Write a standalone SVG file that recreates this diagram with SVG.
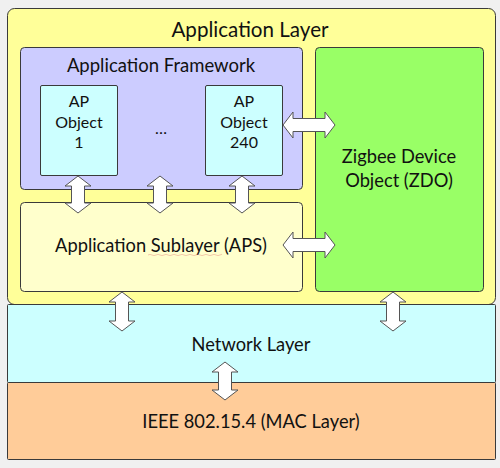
<svg xmlns="http://www.w3.org/2000/svg" width="500" height="468" viewBox="0 0 500 468">
<style>
.box{stroke:#3a3a3a;stroke-width:1}
.t{font-family:Lato,"Liberation Sans",sans-serif;fill:#111;text-anchor:middle}
.arr{fill:#fff;stroke:#555;stroke-width:1;stroke-linejoin:miter}
</style>
<rect x="0" y="0" width="500" height="468" fill="#f0f0f0"/>
<g id="application-layer">
<rect class="box" x="7.5" y="8.5" width="488" height="296" rx="7" fill="#ffff99"/>
<text class="t" x="250" y="37" font-size="20.6">Application Layer</text>
</g>
<g id="application-framework">
<rect class="box" x="20.5" y="47.5" width="282" height="142" rx="4" fill="#ccccff"/>
<text class="t" x="161" y="72" font-size="18.5">Application Framework</text>
</g>
<g id="ap-object-1">
<rect class="box" x="40.5" y="85.5" width="77" height="90" rx="1.5" fill="#ccffff"/>
<text class="t" x="79" y="107" font-size="16">AP</text>
<text class="t" x="79" y="128" font-size="16">Object</text>
<text class="t" x="79" y="148" font-size="16">1</text>
</g>
<g id="ellipsis">
<text class="t" x="161" y="134" font-size="16">…</text>
</g>
<g id="ap-object-240">
<rect class="box" x="205.5" y="85.5" width="77" height="90" rx="1.5" fill="#ccffff"/>
<text class="t" x="244" y="107" font-size="16">AP</text>
<text class="t" x="244" y="128" font-size="16">Object</text>
<text class="t" x="244" y="148" font-size="16">240</text>
</g>
<g id="aps">
<rect class="box" x="20.5" y="202.5" width="282" height="89" rx="4" fill="#ffffcc"/>
<text class="t" x="161" y="252" font-size="18.3">Application Sublayer (APS)</text>
<path d="M148 255 q2 -1.2 4 0 t4 0 t4 0 t4 0 t4 0 t4 0 t4 0 t4 0 t4 0 t4 0 t4 0 t4 0 t4 0 t4 0 t4 0 t4 0 t4 0 t4 0 t2 0" fill="none" stroke="#e07070" stroke-width="0.7" opacity="0.55"/>
</g>
<g id="zdo">
<rect class="box" x="315.5" y="47.5" width="168" height="244" rx="4" fill="#99ff66"/>
<text class="t" x="399" y="163" font-size="18.3">Zigbee Device</text>
<text class="t" x="399" y="187" font-size="18.3">Object (ZDO)</text>
</g>
<g id="network-layer">
<rect class="box" x="7.5" y="304.5" width="488" height="78" rx="1" fill="#ccffff"/>
<text class="t" x="251" y="351" font-size="18.3">Network Layer</text>
</g>
<g id="mac-layer">
<rect class="box" x="7.5" y="382.5" width="488" height="77" rx="1" fill="#ffcc99"/>
<text class="t" x="251" y="428" font-size="18.3">IEEE 802.15.4 (MAC Layer)</text>
</g>
<g id="connectors">
<path class="arr" d="M78 176 L91 186 L84.5 186 L84.5 203 L91 203 L78 213 L65 203 L71.5 203 L71.5 186 L65 186 Z"/>
<path class="arr" d="M160 176 L173 186 L166.5 186 L166.5 203 L173 203 L160 213 L147 203 L153.5 203 L153.5 186 L147 186 Z"/>
<path class="arr" d="M242 176 L255 186 L248.5 186 L248.5 203 L255 203 L242 213 L229 203 L235.5 203 L235.5 186 L229 186 Z"/>
<path class="arr" d="M283 125 L293 112 L293 118.5 L325 118.5 L325 112 L335 125 L325 138 L325 131.5 L293 131.5 L293 138 Z"/>
<path class="arr" d="M283 245 L293 232 L293 238.5 L325 238.5 L325 232 L335 245 L325 258 L325 251.5 L293 251.5 L293 258 Z"/>
<path class="arr" d="M122 292 L135 302 L128.5 302 L128.5 321 L135 321 L122 331 L109 321 L115.5 321 L115.5 302 L109 302 Z"/>
<path class="arr" d="M393 292 L406 302 L399.5 302 L399.5 321 L406 321 L393 331 L380 321 L386.5 321 L386.5 302 L380 302 Z"/>
<path class="arr" d="M225 362 L238 372 L231.5 372 L231.5 390 L238 390 L225 400 L212 390 L218.5 390 L218.5 372 L212 372 Z"/>
</g>
</svg>
